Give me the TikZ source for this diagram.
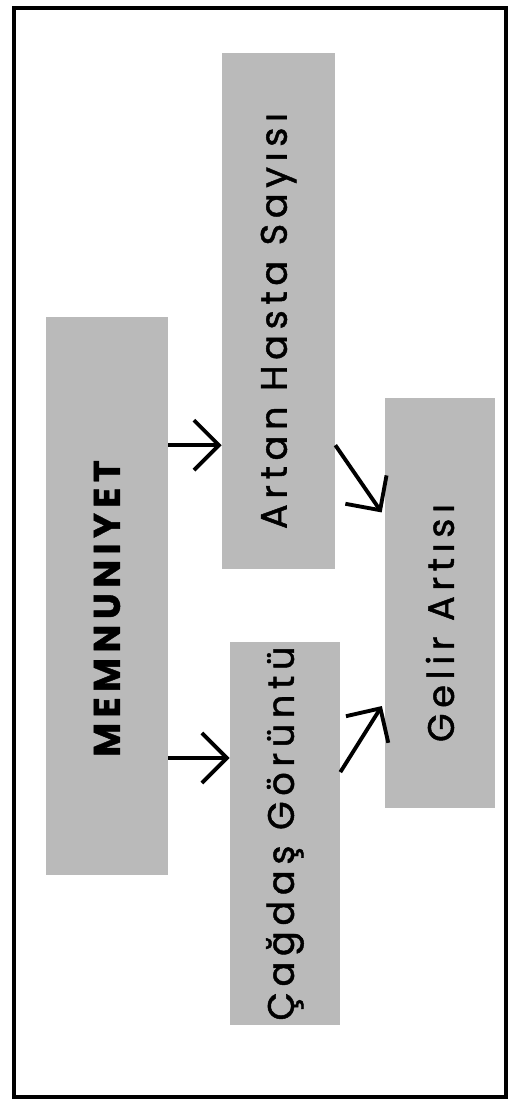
\documentclass[tikz,border=0pt]{standalone}
\usepackage{fontspec}
\setmainfont{Poppins}
\usetikzlibrary{arrows.meta, positioning, calc}

\begin{document}
\begin{tikzpicture}[
    x=0.02cm, y=-0.02cm,
    box/.style={rectangle, fill=black!27, inner sep=0pt,
        font=\fontsize{21}{24}\selectfont\addfontfeatures{LetterSpace=15, FakeBold=1.2}},
    arr/.style={-{Straight Barb[length=5mm, width=10mm]}, line width=2.2pt},
]
    \useasboundingbox (0,0) rectangle (516,1110);

    % outer frame
    \draw[line width=2.2pt] (14,8) rectangle (506,1097);

    \node[box, minimum width=2.44cm, minimum height=11.16cm] (mem)    at (107,596)   {\rotatebox{90}{\bfseries MEMNUNIYET\hspace*{0.5cm}}};
    \node[box, minimum width=2.26cm, minimum height=10.34cm] (artan)  at (278.5,311) {\rotatebox{90}{Artan Hasta Sayısı\hspace*{0.4cm}}};
    \node[box, minimum width=2.2cm,  minimum height=7.66cm]  (cagdas) at (285,833.5) {\rotatebox{90}{Çağdaş Görüntü}};
    \node[box, minimum width=2.2cm,  minimum height=8.2cm]   (gelir)  at (440,603)   {\rotatebox{90}{Gelir Artısı\hspace*{0.8cm}}};

    \path (mem.north east) -- (mem.south east)
        coordinate[pos=0.23] (m1)
        coordinate[pos=0.79] (m2);
    \path (gelir.north west) -- (gelir.south west)
        coordinate[pos=0.29] (g1)
        coordinate[pos=0.74] (g2);

    \draw[arr] (m1) -- (m1 -| artan.west);
    \draw[arr] (m2) -- (m2 -| cagdas.west);
    \draw[arr, shorten >=3pt] (artan.east |- m1) -- (g1);
    \draw[arr, shorten >=3pt] ($(cagdas.north east)!0.34!(cagdas.south east)$) -- (g2);
\end{tikzpicture}
\end{document}
